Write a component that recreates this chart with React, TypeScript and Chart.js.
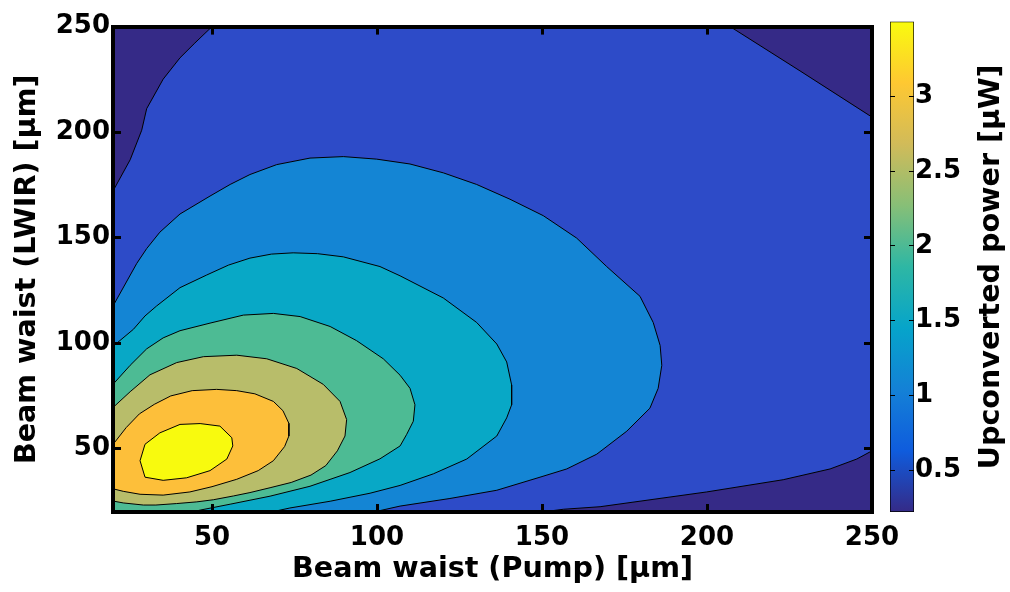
import React, { useEffect, useRef } from "react";
import { Chart, registerables } from "chart.js";

Chart.register(...registerables);

type Pt = [number, number];

// ---- axes ----
const pumpRange: Pt = [20, 250];
const lwirRange: Pt = [20, 250];
const pumpTicks = [50, 100, 150, 200, 250];
const lwirTicks = [50, 100, 150, 200, 250];
const powerRange: Pt = [0.22, 3.5];
const powerTicks = [0.5, 1, 1.5, 2, 2.5, 3];

const xLabel = "Beam waist (Pump) [\u03bcm]";
const yLabel = "Beam waist (LWIR) [\u03bcm]";
const colorbarLabel = "Upconverted power [\u03bcW]";

// ---- contour regions (pump waist, LWIR waist) ----
const plotFrame: Pt[] = [[20, 20], [250, 20], [250, 250], [20, 250]];
const level1TopLeft: Pt[] = [[50, 250], [44.8, 242.2], [40.3, 235.2], [35.2, 225.1], [30.2, 211.1], [28.7, 200.9], [25.2, 186.9], [20, 172.1], [20, 250]];
const level1TopRight: Pt[] = [[207, 250], [228.2, 229], [250, 207.1], [250, 250]];
const level1BottomRight: Pt[] = [[150, 20], [156.5, 21.3], [167.6, 22.5], [199.9, 29.5], [223.1, 35.3], [237.3, 40.4], [245.4, 45.1], [250, 49], [250, 20]];
const level2: Pt[] = [[20, 117.6], [27.2, 137.8], [30.2, 144.8], [34.2, 152.6], [40.3, 161.2], [49.4, 169.7], [55.5, 175.2], [61.5, 179.9], [69.6, 184.6], [79.7, 187.7], [89.8, 188.4], [99.9, 187.2], [110, 184.9], [120.1, 180.7], [130.2, 175.2], [140.3, 168.2], [150.4, 160.4], [160.5, 149.8], [169.6, 136.3], [179.7, 122.2], [183.7, 109.8], [185.8, 98.9], [186.3, 89.5], [185.2, 78.6], [182.7, 69.2], [175.7, 58.3], [166.6, 47.4], [157.5, 40.4], [149.4, 36.5], [136.3, 30.3], [122.1, 26.4], [107, 22.8], [99, 20], [20, 20]];
const level3: Pt[] = [[20, 98.5], [26.2, 106.6], [29.7, 112.9], [33.2, 117.6], [40.3, 126.3], [48.4, 132.3], [55, 137], [61.5, 140.3], [68, 142.2], [74.6, 142.8], [82, 142.4], [89.8, 140.9], [100.9, 136.3], [107, 131.9], [120.1, 121.4], [130.2, 109.8], [136.3, 99.6], [139.3, 91.1], [140.8, 80.2], [140.8, 70.8], [139.3, 64.6], [136.3, 56], [127.2, 45.1], [117.1, 38.1], [107, 32.6], [97.9, 28.9], [85.8, 25.1], [73.6, 21.9], [68, 20], [20, 20]];
const level4: Pt[] = [[20, 80.5], [25.2, 89.5], [30.2, 97.3], [35.2, 102.5], [40.3, 105.9], [49.4, 109.5], [59.5, 113.3], [68.6, 114.1], [76.7, 112.6], [85.8, 107.9], [93.8, 101.2], [101.9, 92.6], [107, 84.8], [110, 78.6], [111.5, 70.8], [111, 63], [109, 56.8], [107, 51.3], [100.9, 45.2], [91.8, 38.7], [79.7, 32.2], [67.6, 27.5], [55.5, 23.7], [46.4, 20.9], [44, 20], [20, 20]];
const level5: Pt[] = [[20, 69.5], [25.2, 77], [31.2, 85], [39.3, 90.8], [47.4, 93.6], [57.5, 94.3], [66.6, 92.6], [75.7, 88], [83.7, 80.5], [88.8, 72.4], [90.8, 63.8], [90.3, 56], [88, 49], [84.5, 42], [80, 37.5], [74, 34], [67.6, 31.5], [61.5, 29.2], [56.5, 27.6], [50.4, 25.8], [45.4, 24.8], [39.3, 24], [33, 23.3], [29.2, 23.3], [23.1, 24.3], [20, 25.2]];
const level6: Pt[] = [[20, 52], [24, 60], [28, 66.5], [32.5, 71], [37.5, 75], [44, 77.5], [51.4, 78.1], [57.5, 77.5], [63, 76], [68.6, 72.4], [71.5, 68], [73.3, 62], [73.3, 56], [72, 51], [68.6, 44.3], [64, 39.6], [57.5, 35.5], [50, 32], [43.3, 29.5], [35.2, 28], [28.2, 28.4], [23.1, 29.8], [20, 31]];
const level7: Pt[] = [[28.2, 44.3], [29.7, 36.5], [35.2, 35], [42.3, 36.2], [49.4, 39.6], [54.5, 45.1], [56.3, 51.3], [56, 55.2], [52.4, 60.7], [46.4, 61.9], [40.3, 61.5], [34.2, 57.5], [29.7, 52.1], [28.2, 44.3]];

// ---- colours ----
const bandColors = ["#352a87", "#2d4bc8", "#1485d4", "#08a8c6", "#4dbb94", "#b8bd6a", "#fdbf3a", "#f8fa0e"];
const parulaStops = ["#352a87", "#0f5cdd", "#1481d6", "#06a4ca", "#2eb7a4", "#87bf77", "#d1bb59", "#fec832", "#f9fb0e"];

const tickFont = { family: "'DejaVu Sans'", size: 26, weight: "bold" as const };
const titleFont = { family: "'DejaVu Sans'", size: 28.6, weight: "bold" as const };

const layers: { pts: Pt[]; color: string; line: boolean }[] = [
  { pts: plotFrame, color: bandColors[1], line: false },
  { pts: level1TopLeft, color: bandColors[0], line: true },
  { pts: level1TopRight, color: bandColors[0], line: true },
  { pts: level1BottomRight, color: bandColors[0], line: true },
  { pts: level2, color: bandColors[2], line: true },
  { pts: level3, color: bandColors[3], line: true },
  { pts: level4, color: bandColors[4], line: true },
  { pts: level5, color: bandColors[5], line: true },
  { pts: level6, color: bandColors[6], line: true },
  { pts: level7, color: bandColors[7], line: true },
];

function axis(range: Pt, ticks: number[], position: string, size: number, showLabels: boolean, pad: number, tickLen: number, tickW: number, borderW: number) {
  const horizontal = position === "top" || position === "bottom";
  return {
    type: "linear" as const,
    position,
    min: range[0],
    max: range[1],
    afterBuildTicks: (s: any) => {
      s.ticks = ticks.map((v) => ({ value: v }));
    },
    afterFit: (s: any) => {
      if (horizontal) s.height = size;
      else s.width = size;
    },
    ticks: {
      display: showLabels,
      font: tickFont,
      color: "#000",
      padding: pad,
      autoSkip: false,
      maxRotation: 0,
      callback: (v: any) => String(v),
    },
    grid: {
      drawOnChartArea: false,
      drawTicks: true,
      tickLength: tickLen,
      tickWidth: tickW,
      tickColor: "#000",
      z: 1,
    },
    border: { display: borderW > 0, color: "#000", width: borderW, z: 1 },
  };
}

const colorbarTitlePlugin = {
  id: "colorbarTitle",
  afterDraw(chart: any) {
    const { ctx, chartArea } = chart;
    ctx.save();
    ctx.translate(chartArea.right + 85, (chartArea.top + chartArea.bottom) / 2);
    ctx.rotate(-Math.PI / 2);
    ctx.font = "bold 28.6px 'DejaVu Sans'";
    ctx.fillStyle = "#000";
    ctx.textAlign = "center";
    ctx.textBaseline = "alphabetic";
    ctx.fillText(colorbarLabel, 0, 0);
    ctx.restore();
  },
};

export default function App() {
  const mainRef = useRef<HTMLCanvasElement>(null);
  const barRef = useRef<HTMLCanvasElement>(null);

  useEffect(() => {
    if (!mainRef.current || !barRef.current) return;

    const datasets = layers.map((l, i) => ({
      data: l.pts.map(([x, y]) => ({ x, y })),
      backgroundColor: l.color,
      borderColor: "#000",
      borderWidth: l.line ? 1 : 0,
      fill: "shape" as const,
      pointRadius: 0,
      tension: 0,
      order: layers.length - i,
    }));

    const xAxis: any = axis(pumpRange, pumpTicks, "bottom", 80, true, 19, -8, 3, 4);
    xAxis.title = { display: true, text: xLabel, font: titleFont, color: "#000", padding: { top: 0, bottom: 5 } };
    const yAxis: any = axis(lwirRange, lwirTicks, "left", 113, true, 11, -8, 3, 4);
    yAxis.title = { display: true, text: yLabel, font: titleFont, color: "#000", padding: { top: 10, bottom: 0 } };

    const main = new Chart(mainRef.current, {
      type: "line",
      data: { datasets },
      options: {
        responsive: false,
        animation: false,
        events: [],
        layout: { padding: { left: 0, right: 138, top: 20, bottom: 0 } },
        plugins: { legend: { display: false }, tooltip: { enabled: false } },
        scales: {
          x: xAxis,
          x2: axis(pumpRange, pumpTicks, "top", 0, false, 0, -8, 3, 4) as any,
          y: yAxis,
          y2: axis(lwirRange, lwirTicks, "right", 0, false, 0, -8, 3, 4) as any,
        },
      },
    });

    const gradient = (context: any) => {
      const chart = context.chart;
      const { ctx, chartArea } = chart;
      if (!chartArea) return parulaStops[0];
      const g = ctx.createLinearGradient(0, chartArea.bottom, 0, chartArea.top);
      parulaStops.forEach((c, i) => g.addColorStop(i / (parulaStops.length - 1), c));
      return g;
    };

    const barY: any = axis(powerRange, powerTicks, "right", 96, true, 6, -5, 1, 0);
    const barY2: any = axis(powerRange, powerTicks, "left", 0, false, 0, -5, 1, 0);

    const bar = new Chart(barRef.current, {
      type: "bar",
      data: {
        labels: ["power"],
        datasets: [
          {
            data: [powerRange as any],
            backgroundColor: gradient,
            borderColor: "#000",
            borderWidth: 1,
            borderSkipped: false,
            barPercentage: 1,
            categoryPercentage: 1,
            yAxisID: "y",
          },
        ],
      },
      options: {
        responsive: false,
        animation: false,
        events: [],
        layout: { padding: { left: 890, right: 0, top: 20, bottom: 80 } },
        plugins: { legend: { display: false }, tooltip: { enabled: false } },
        scales: {
          x: { display: false },
          y: barY,
          y2: barY2,
        },
      },
      plugins: [colorbarTitlePlugin],
    });

    return () => {
      main.destroy();
      bar.destroy();
    };
  }, []);

  return (
    <div style={{ position: "absolute", left: 0, top: 0, width: 1010, height: 592, background: "#fff" }}>
      <canvas ref={mainRef} width={1010} height={592} style={{ position: "absolute", left: 0, top: 0 }} />
      <canvas ref={barRef} width={1010} height={592} style={{ position: "absolute", left: 0, top: 0 }} />
    </div>
  );
}
